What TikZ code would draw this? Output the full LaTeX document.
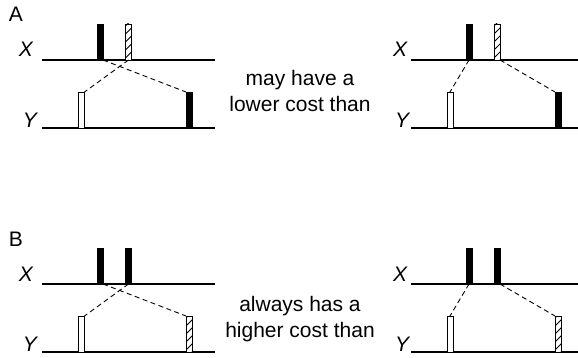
\documentclass[tikz,border=0pt]{standalone}
\usepackage{fontspec}
\setmainfont{Liberation Sans}
\begin{document}
\begin{tikzpicture}[x=1pt,y=-1pt,
  axis/.style={line width=1.5pt},
  barbase/.style={rectangle, draw=black, line width=0.9pt, minimum width=6pt, minimum height=36pt, inner sep=0pt, outer sep=0pt, anchor=south},
  blackbar/.style={barbase, fill=black},
  whitebar/.style={barbase, fill=white},
  hatchbar/.style={barbase, fill=white, path picture={\foreach \k in {0,...,5}{\draw[line width=0.9pt] ([yshift=\k*8pt-6pt]path picture bounding box.south west) -- ++(8pt,8pt);}}},
  link/.style={dash pattern=on 5pt off 3.5pt, line width=0.9pt},
  lbl/.style={font=\fontsize{21}{25}\selectfont\itshape, inner sep=0pt},
  ptitle/.style={font=\fontsize{21}{25}\selectfont, inner sep=0pt},
  txt/.style={font=\fontsize{21}{25}\selectfont, inner sep=0pt, anchor=base}
]
\useasboundingbox (0,0) rectangle (578,358);

% ---------- Panel A ----------
\node[ptitle] (tA) at (16,14) {A};
% left
\node[lbl] (aXl) at (26,49) {X};
\node[lbl] (aYl) at (30,120) {Y};
\draw[axis] (42,60) -- (215,60);
\draw[axis] (42,128) -- (215,128);
\node[blackbar] (a1x1) at (100,60) {};
\node[hatchbar] (a1x2) at (128.5,60) {};
\node[whitebar] (a1y1) at (81.5,128) {};
\node[blackbar] (a1y2) at (189,128) {};
\draw[link] (a1x1.south east) -- (a1y2.north west);
\draw[link] (a1x2.south) -- (a1y1.north east);
% text
\node[txt] (tA1) at (300,86) {may have a};
\node[txt] (tA2) at (300,112) {lower cost than};
% right
\node[lbl] (aXr) at (400,49) {X};
\node[lbl] (aYr) at (402,120) {Y};
\draw[axis] (411,60) -- (578,60);
\draw[axis] (411,128) -- (578,128);
\node[blackbar] (a2x1) at (469,60) {};
\node[hatchbar] (a2x2) at (497,60) {};
\node[whitebar] (a2y1) at (450,128) {};
\node[blackbar] (a2y2) at (558,128) {};
\draw[link] (a2x1.south) -- (a2y1.north);
\draw[link] (a2x2.south east) -- (a2y2.north west);

% ---------- Panel B ----------
\node[ptitle] (tB) at (16,239) {B};
% left
\node[lbl] (bXl) at (26,274) {X};
\node[lbl] (bYl) at (30,344) {Y};
\draw[axis] (42,284) -- (215,284);
\draw[axis] (42,352) -- (215,352);
\node[blackbar] (b1x1) at (100,284) {};
\node[blackbar] (b1x2) at (128.5,284) {};
\node[whitebar] (b1y1) at (81.5,352) {};
\node[hatchbar] (b1y2) at (189,352) {};
\draw[link] (b1x1.south east) -- (b1y2.north west);
\draw[link] (b1x2.south) -- (b1y1.north east);
% text
\node[txt] (tB1) at (300,311) {always has a};
\node[txt] (tB2) at (300,337) {higher cost than};
% right
\node[lbl] (bXr) at (400,274) {X};
\node[lbl] (bYr) at (402,344) {Y};
\draw[axis] (411,284) -- (578,284);
\draw[axis] (411,352) -- (578,352);
\node[blackbar] (b2x1) at (469,284) {};
\node[blackbar] (b2x2) at (497,284) {};
\node[whitebar] (b2y1) at (450,352) {};
\node[hatchbar] (b2y2) at (558,352) {};
\draw[link] (b2x1.south) -- (b2y1.north);
\draw[link] (b2x2.south east) -- (b2y2.north west);
\end{tikzpicture}
\end{document}
